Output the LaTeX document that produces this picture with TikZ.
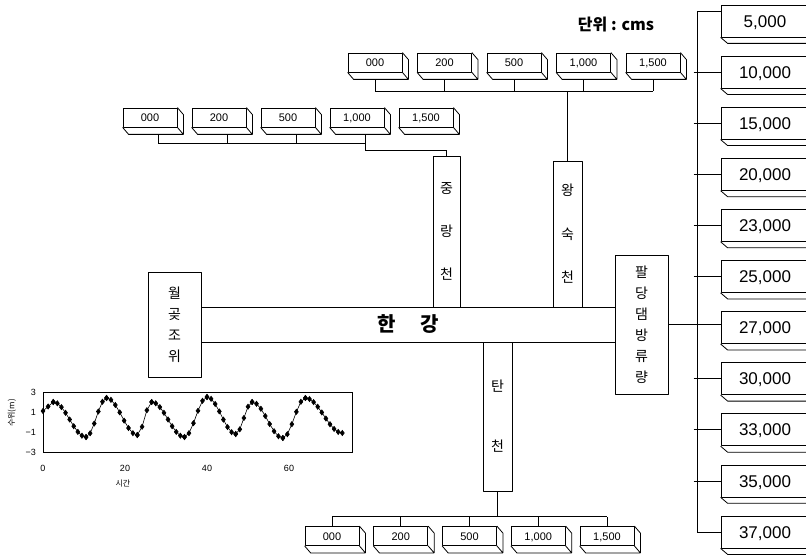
\documentclass[tikz,border=0pt]{standalone}
\usepackage{fontspec}
\setmainfont{Liberation Sans}
\newfontfamily\kr{Noto Sans CJK KR}
\usetikzlibrary{calc,plotmarks}

% right and bottom faces of a value box
\newcommand{\drawdepth}[2]{%
  \draw[boxline] (#1.north east) -- ++(#2) -- ($(#1.south east)+(#2)$) -- ($(#1.south west)+(#2)$) -- (#1.south west)
    (#1.south east) -- ++(#2);}

\begin{document}
\begin{tikzpicture}[
    x=1pt, y=-1pt,
    boxline/.style={line width=0.8pt, line join=round},
    valbox/.style={rectangle, draw, boxline, fill=white, inner sep=0pt, minimum width=54, minimum height=19, text height=8pt, text depth=0pt, font=\fontsize{11}{13}\selectfont},
    bigbox/.style={rectangle, draw, boxline, fill=white, inner sep=0pt, minimum width=88, minimum height=32, text height=12.2pt, text depth=0pt, font=\fontsize{17}{20}\selectfont},
    river/.style={rectangle, draw, boxline, inner sep=0pt, align=center},
    link/.style={line width=0.8pt}
]
    \useasboundingbox (0,0) rectangle (806,556);
    \fill[white] (0,0) rectangle (806,556);
    \clip (0,0) rectangle (806,556);

    % river network
    \node [river, minimum width=53, minimum height=105, font=\kr\fontsize{14}{21}\selectfont] (wolgot) at (174.5,324.5) {월\\곶\\조\\위};
    \node [river, minimum width=414, minimum height=35, font=\kr\bfseries\fontsize{20}{24}\selectfont] (hangang) at (408,324.5) {한\hspace{24pt}강};
    \node [river, minimum width=27, minimum height=151, font=\kr\fontsize{14}{43}\selectfont] (jung) at (446.5,231.5) {중\\랑\\천};
    \node [river, minimum width=29, minimum height=146, font=\kr\fontsize{14}{43.5}\selectfont] (wang) at (567.5,234) {왕\\숙\\천};
    \node [river, minimum width=29, minimum height=149, font=\kr\fontsize{14}{60}\selectfont] (tan) at (497.5,416.5) {탄\\천};
    \node [river, minimum width=53, minimum height=139, font=\kr\fontsize{14}{21}\selectfont] (paldang) at (641.5,324.5) {팔\\당\\댐\\방\\류\\량};

    \node [font=\kr\bfseries\fontsize{16}{18}\selectfont] (unit) at (616,25) {단위 : cms};

    % tributary flows
    \foreach \v [count=\i] in {000,200,500,{1,000},{1,500}} {
        \node [valbox] (w\i) at (375+69.5*\i-69.5, 62.5) {\v};
        \drawdepth{w\i}{6,7}
        \node [valbox] (j\i) at (150+69*\i-69, 117.5) {\v};
        \drawdepth{j\i}{6,7}
        \node [valbox] (t\i) at (332+68.75*\i-68.75, 536) {\v};
        \drawdepth{t\i}{6,7}
    }

    \foreach \i in {1,...,5} {
        \draw [link] ($(w\i.south)+(0,7)$) -- ++(0,12);
        \draw [link] (t\i.north) -- ++(0,-9.5);
    }
    \coordinate (wjoin) at ($(w1.south)+(0,19)$);
    \draw [link] (wjoin) -- ($(w5.south)+(0,19)$);
    \draw [link] (wang.north) -- (wang.north |- wjoin);

    \foreach \i in {1,...,4}
        \draw [link] ($(j\i.south)+(8,7)$) -- ++(0,9);
    \draw [link] ($(j1.south)+(8,16)$) -- ($(j4.south)+(8,16)$) -- ++(0,7) -| (jung.north);

    \coordinate (tjoin) at ($(t1.north)+(0,-9.5)$);
    \draw [link] (tjoin) -- ($(t5.north)+(0,-9.5)$);
    \draw [link] (tan.south) -- (tan.south |- tjoin);

    % dam discharge
    \foreach \v [count=\i] in {{5,000},{10,000},{15,000},{20,000},{23,000},{25,000},{27,000},{30,000},{33,000},{35,000},{37,000}} {
        \node [bigbox] (q\i) at (765, 21+51.1*\i-51.1) {\v};
        \drawdepth{q\i}{7,6}
    }
    \coordinate (qbus) at (697,0);
    \draw [line width=1pt] ($(q1.west)+(0,-9)$) -| (qbus |- q11.west) -- (q11.west);
    \foreach \i in {2,3,4,5,6,8,9,10}
        \draw [link] ($(q\i.west)+(-27,0)$) -- (q\i.west);
    \draw [link] (paldang.east) -- (paldang.east -| q7.west);

    % tide at Wolgot
    \begin{scope}[shift={(43,422)}, x=4.1pt, y=10pt]
        \draw [line width=0.8pt] (0,-3) rectangle (75.4,3);
        \foreach \t in {0,20,40,60}
            \node [font=\fontsize{9}{10}\selectfont] (xt\t) at (\t,-4.6) {\t};
        \foreach \v/\s [count=\i] in {3/3,1/1,-1/−1,-3/−3}
            \node [anchor=east, inner sep=0pt, font=\fontsize{9}{10}\selectfont] (yt\i) at (-1.7,\v) {\s};
        \node [font=\kr\fontsize{8}{9}\selectfont] (xlabel) at (19.5,-6.2) {시간};
        \node [rotate=90, font=\kr\fontsize{8}{9}\selectfont] (ylabel) at (-7.6,0.9) {수위(m)};
        \foreach \ta/\va/\tb/\vb/\n in {0/1.1/2.5/2.0/3, 2.5/2.0/10.5/-1.5/9, 10.5/-1.5/15.5/2.4/6,
                15.5/2.4/23/-1.3/8, 23/-1.3/26.5/2.0/4, 26.5/2.0/34.5/-1.5/9, 34.5/-1.5/40/2.5/6,
                40/2.5/47/-1.2/8, 47/-1.2/51/2.0/5, 51/2.0/58.5/-1.6/8, 58.5/-1.6/64/2.4/6, 64/2.4/73/-1.1/10}
            \draw [line width=0.6pt, mark=diamond*, mark size=2.6pt]
                plot [domain=\ta:\tb, samples=\n] ({\x}, {(\va+\vb)/2+(\va-\vb)/2*cos(180*(\x-\ta)/(\tb-\ta))});
    \end{scope}
\end{tikzpicture}
\end{document}
